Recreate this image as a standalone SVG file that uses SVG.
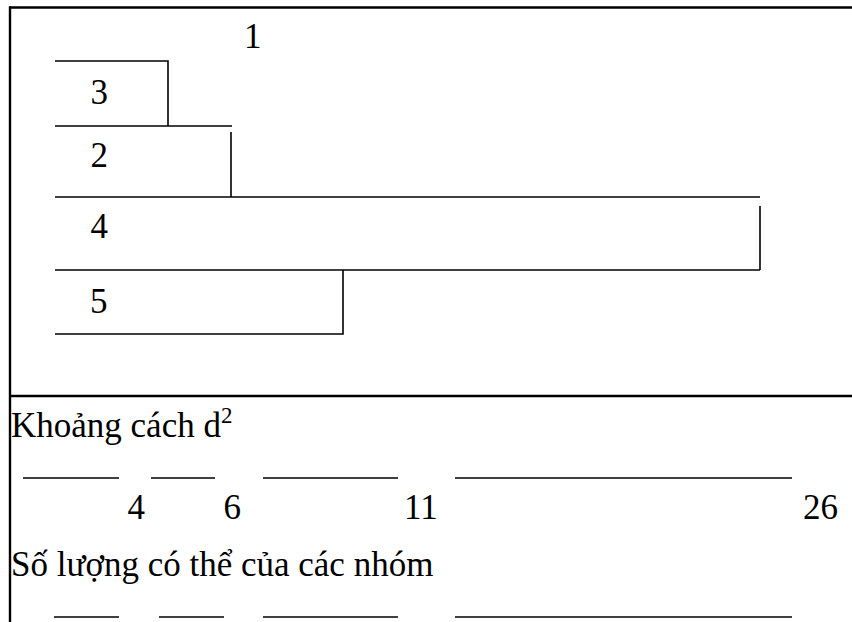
<svg xmlns="http://www.w3.org/2000/svg" width="852" height="622" viewBox="0 0 852 622">
<style>
text{font-family:'Liberation Serif','Times New Roman',serif;fill:#000}
.t{font-size:35px}
.sup{font-size:23px}
.br{stroke:#000;stroke-width:1.6;fill:none}
.frame{stroke:#000;stroke-width:2.4;fill:none}
.dash{stroke:#000;stroke-width:1.6}
</style>
<rect width="852" height="622" fill="#fff"/>
<g id="frame">
<line class="frame" x1="10" y1="7.5" x2="852" y2="7.5"/>
<line class="frame" x1="10" y1="6.3" x2="10" y2="622"/>
<line class="frame" x1="10" y1="396" x2="852" y2="396"/>
</g>
<g id="connectors">
<path class="br" d="M55,61 H168 V126"/>
<path class="br" d="M55,126 H232"/>
<path class="br" d="M231,132 V197"/>
<path class="br" d="M55,197 H760"/>
<path class="br" d="M760,206 V270"/>
<path class="br" d="M55,270 H760"/>
<path class="br" d="M343,270 V334 H55"/>
</g>
<g id="node1"><text class="t" x="244" y="48">1</text></g>
<g id="node3"><text class="t" x="90.5" y="104">3</text></g>
<g id="node2"><text class="t" x="90.5" y="167">2</text></g>
<g id="node4"><text class="t" x="90.5" y="238">4</text></g>
<g id="node5"><text class="t" x="90" y="313">5</text></g>
<g id="distance">
<text class="t" x="11" y="437">Khoảng cách d<tspan class="sup" dy="-14">2</tspan></text>
<line class="dash" x1="23" y1="478" x2="119" y2="478"/>
<line class="dash" x1="151" y1="478" x2="215" y2="478"/>
<line class="dash" x1="263" y1="478" x2="398" y2="478"/>
<line class="dash" x1="455" y1="478" x2="792" y2="478"/>
<text class="t" x="127.5" y="519">4</text>
<text class="t" x="223.5" y="519">6</text>
<text class="t" x="404" y="519">11</text>
<text class="t" x="803" y="519">26</text>
</g>
<g id="groups">
<text class="t" x="11" y="576">Số lượng có thể của các nhóm</text>
<line class="dash" x1="54" y1="617" x2="119" y2="617"/>
<line class="dash" x1="159" y1="617" x2="224" y2="617"/>
<line class="dash" x1="263" y1="617" x2="398" y2="617"/>
<line class="dash" x1="455" y1="617" x2="792" y2="617"/>
</g>
</svg>
